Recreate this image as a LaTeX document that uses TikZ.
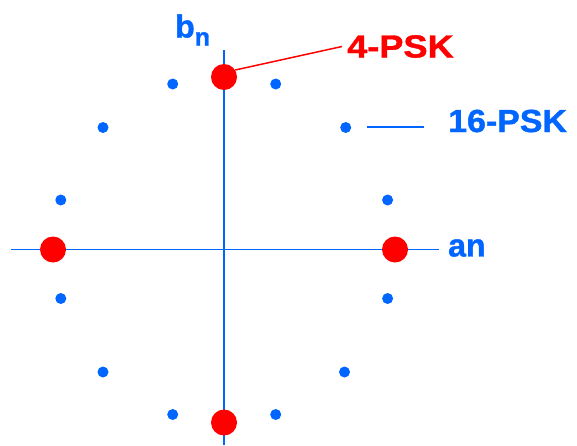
\documentclass[tikz,border=0pt]{standalone}
\usepackage{fontspec}
\setmainfont{Liberation Sans}
\newfontfamily\lblfont[FakeBold=1.2]{Liberation Sans Bold}
\definecolor{pskblue}{HTML}{0066FF}
\definecolor{pskred}{HTML}{FF0000}
\tikzset{
  axis/.style={draw=pskblue, line width=1.8pt},
  reddot/.style={circle, fill=pskred, inner sep=0pt, minimum size=26pt},
  bluedot/.style={circle, fill=pskblue, inner sep=0pt, minimum size=11pt},
  lbl/.style={inner sep=0pt, font=\fontsize{32}{32}\lblfont},
  redlink/.style={draw=pskred, line width=1.5pt},
  bluelink/.style={draw=pskblue, line width=1.5pt}
}
\begin{document}
\begin{tikzpicture}[x=1pt,y=-1pt]
\useasboundingbox (0,0) rectangle (577,445);
% axes
\coordinate (ytop) at (224,50);
\coordinate (ybot) at (224,445);
\coordinate (xl) at (11,249.5);
\coordinate (xr) at (438.5,249.5);
\draw[axis] (xl) -- (xr);
\draw[axis] (ytop) -- (ybot);
% 16-PSK points
\node[bluedot] (p1) at (172.7,84) {};
\node[bluedot] (p2) at (275.7,84) {};
\node[bluedot] (p3) at (345.7,127.5) {};
\node[bluedot] (p4) at (103,127.5) {};
\node[bluedot] (p5) at (60.8,200) {};
\node[bluedot] (p6) at (387.6,200) {};
\node[bluedot] (p7) at (60.8,298.5) {};
\node[bluedot] (p8) at (387.6,298.5) {};
\node[bluedot] (p9) at (103,372) {};
\node[bluedot] (p10) at (344.5,372) {};
\node[bluedot] (p11) at (172.7,414.5) {};
\node[bluedot] (p12) at (275.7,414.5) {};
% 4-PSK points
\node[reddot] (r1) at (224,77) {};
\node[reddot] (r2) at (53,249.5) {};
\node[reddot] (r3) at (395,249.5) {};
\node[reddot] (r4) at (224,422.5) {};
% labels
\node[lbl, text=pskred, anchor=west, inner xsep=5pt] (l4) at (342,46.5) {\scalebox{1.13}[1]{4-PSK}};
\draw[redlink] (r1.32) -- (l4.west);
\node[lbl, text=pskblue, anchor=west] (l16) at (448,121) {\scalebox{1.06}[1]{16-PSK}};
\coordinate (s16a) at (366.7,127);
\coordinate (s16b) at (424,127);
\draw[bluelink] (s16a) -- (s16b);
\node[lbl, text=pskblue, anchor=west] (lan) at (448,248) {an};
\node[lbl, text=pskblue, anchor=base west] (lbn) at (175,37.5) {b\raisebox{-8pt}{\fontsize{25}{25}\lblfont n}};
\end{tikzpicture}
\end{document}
